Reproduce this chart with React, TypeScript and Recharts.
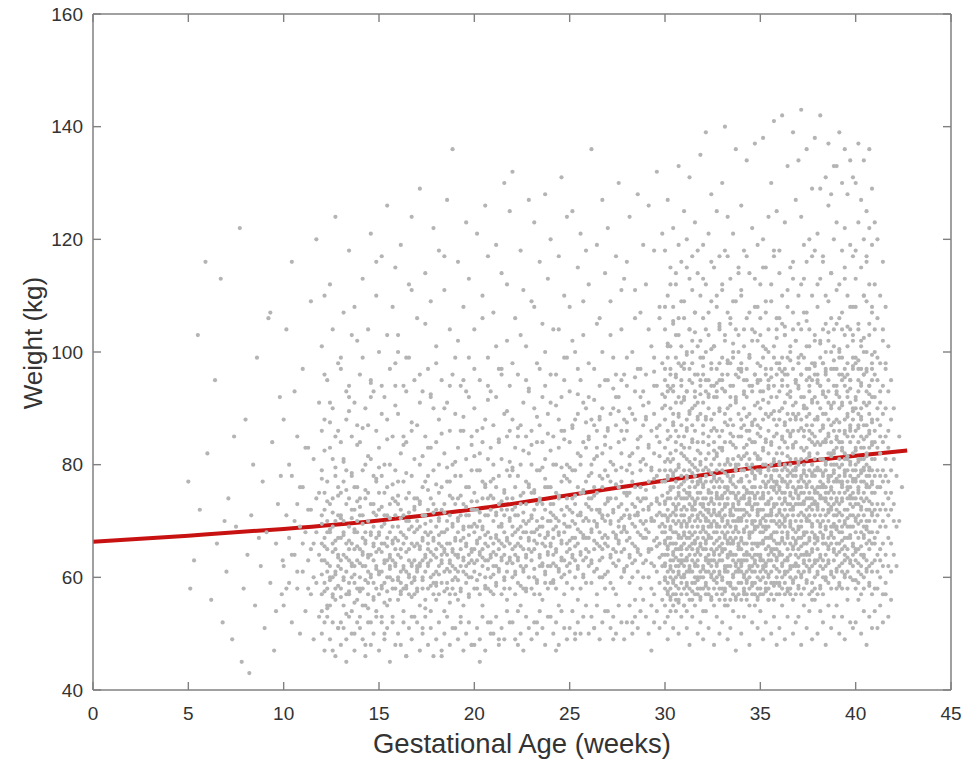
import React from 'react';
import { ComposedChart, Scatter, Line, XAxis, YAxis } from 'recharts';

// sparse early visits, [gestational age (weeks), weight (kg)]
const earlyPoints: [number, number][] = [
  [5.0, 77], [5.1, 58], [5.3, 63], [5.5, 103], [5.6, 72], [5.9, 116], [6.0, 82], [6.2, 56],
  [6.4, 95], [6.5, 66], [6.7, 113], [6.8, 52], [7.0, 61], [7.1, 74], [7.3, 49], [7.5, 69],
  [7.7, 122], [7.8, 45], [7.9, 58], [8.0, 88], [8.1, 64], [8.2, 43], [8.3, 71], [8.5, 55],
  [8.6, 99], [8.8, 62], [8.9, 77], [9.0, 51], [9.1, 68], [9.2, 106], [9.3, 59], [9.4, 84],
  [9.5, 47], [9.6, 66], [9.7, 73], [9.8, 92], [9.9, 57], [9.95, 63], [9.3, 107], [8.4, 80],
  [7.4, 85], [6.9, 70], [9.6, 54], [8.7, 67], [9.85, 78],
];

// weights per week, one list per day of the week
const weeks10to19: number[][][] = [
  [[62, 88, 55], [71, 104, 58], [67, 59, 80], [78, 52, 116, 64], [64, 93, 70], [58, 73, 85, 61], [69, 50, 76]],
  [[61, 76, 97, 66], [54, 68, 83], [83, 63, 58, 72], [72, 109, 57, 65], [66, 49, 81, 60], [59, 74, 120, 68], [64, 91, 53, 75]],
  [[57, 66, 79, 101, 63, 71, 54, 86], [63, 52, 72, 88, 67, 59, 110, 75], [70, 58, 95, 61, 65, 77, 55, 68], [55, 68, 83, 112, 62, 73, 60, 91], [74, 60, 47, 90, 66, 57, 81, 69], [65, 56, 78, 124, 61, 70, 85, 58], [62, 71, 86, 51, 67, 76, 98, 64]],
  [[58, 67, 75, 99, 52, 63, 71, 84], [64, 55, 81, 70, 107, 60, 68, 77], [61, 73, 49, 88, 66, 57, 79, 93], [69, 57, 63, 94, 118, 65, 74, 59], [54, 78, 66, 85, 60, 72, 62, 103], [72, 59, 91, 65, 50, 68, 76, 62], [63, 56, 76, 102, 68, 70, 58, 87]],
  [[60, 71, 53, 84, 96, 65, 58, 74], [67, 58, 64, 79, 113, 62, 71, 55], [55, 62, 74, 90, 48, 68, 80, 66], [70, 61, 57, 87, 104, 64, 75, 59], [64, 52, 68, 81, 121, 73, 60, 92], [59, 73, 66, 93, 56, 69, 78, 63], [62, 77, 54, 86, 110, 67, 71, 58]],
  [[57, 65, 72, 83, 100, 61, 68, 75], [61, 53, 69, 78, 117, 66, 58, 89], [66, 59, 75, 92, 50, 63, 71, 80], [55, 63, 71, 88, 126, 67, 60, 76], [68, 60, 56, 80, 97, 64, 73, 62], [63, 74, 52, 85, 108, 69, 58, 66], [58, 67, 62, 79, 115, 71, 65, 94]],
  [[64, 56, 73, 89, 103, 60, 69, 77], [59, 68, 61, 82, 119, 65, 72, 57], [66, 54, 77, 94, 71, 62, 58, 85], [61, 70, 58, 84, 46, 67, 74, 99], [57, 65, 75, 99, 112, 63, 70, 60], [69, 62, 53, 86, 124, 66, 78, 59], [63, 72, 60, 81, 95, 57, 68, 74]],
  [[58, 66, 74, 87, 106, 62, 70, 61], [62, 55, 69, 80, 129, 65, 73, 91], [67, 60, 76, 93, 51, 63, 71, 58], [56, 64, 71, 85, 114, 68, 61, 77], [65, 58, 78, 97, 62, 72, 66, 83], [60, 68, 54, 83, 109, 74, 63, 70], [64, 73, 59, 90, 122, 67, 57, 79]],
  [[61, 69, 56, 84, 101, 65, 72, 59], [57, 66, 75, 88, 118, 62, 70, 80], [63, 59, 72, 95, 47, 68, 76, 64], [68, 61, 54, 82, 111, 73, 65, 90], [59, 70, 64, 91, 127, 66, 58, 77], [66, 57, 77, 86, 104, 61, 71, 63], [62, 74, 58, 80, 136, 69, 65, 96]],
  [[60, 67, 73, 89, 99, 64, 57, 78], [64, 56, 70, 83, 116, 68, 61, 74], [58, 65, 78, 94, 52, 71, 62, 86], [67, 61, 55, 86, 108, 63, 73, 69], [62, 71, 59, 81, 123, 66, 76, 93], [57, 64, 76, 92, 113, 69, 60, 71], [65, 60, 69, 85, 48, 72, 63, 79]],
];

const weeks20to29: number[][][] = [
  [[61, 68, 75, 90, 104, 65, 72, 58], [58, 66, 72, 86, 121, 63, 79, 69], [64, 57, 79, 95, 45, 70, 67, 82], [69, 62, 55, 84, 110, 74, 65, 77], [60, 71, 66, 88, 126, 63, 76, 58], [63, 58, 74, 99, 117, 68, 81, 71], [67, 60, 77, 83, 52, 72, 64, 93]],
  [[62, 70, 57, 87, 107, 66, 74, 80], [59, 67, 76, 92, 119, 64, 71, 62], [65, 61, 73, 84, 49, 69, 78, 97], [57, 69, 63, 97, 114, 72, 66, 81], [68, 60, 75, 89, 130, 64, 71, 58], [61, 72, 56, 85, 102, 67, 79, 74], [66, 58, 78, 94, 125, 70, 63, 86]],
  [[60, 69, 74, 88, 132, 65, 72, 79], [64, 57, 71, 83, 106, 68, 76, 61], [59, 66, 78, 96, 48, 71, 63, 85], [67, 62, 55, 87, 118, 73, 69, 80], [61, 70, 65, 91, 111, 75, 58, 68], [58, 73, 68, 85, 101, 64, 77, 62], [65, 60, 76, 93, 127, 70, 67, 82]],
  [[63, 71, 58, 86, 109, 68, 75, 80], [60, 68, 75, 90, 123, 65, 72, 57], [66, 59, 73, 98, 52, 70, 79, 84], [57, 64, 79, 87, 116, 69, 62, 74], [69, 62, 56, 84, 105, 73, 66, 92], [61, 72, 67, 94, 128, 76, 59, 81], [64, 58, 76, 89, 113, 70, 68, 62]],
  [[62, 70, 76, 91, 120, 66, 73, 59], [59, 67, 73, 85, 104, 71, 64, 80], [65, 58, 80, 96, 47, 69, 75, 62], [68, 61, 55, 88, 117, 74, 70, 83], [60, 72, 66, 92, 131, 77, 63, 86], [63, 57, 78, 86, 110, 68, 71, 95], [66, 69, 59, 99, 124, 74, 62, 80]],
  [[61, 69, 77, 93, 108, 72, 65, 84], [64, 58, 74, 87, 125, 70, 67, 79], [60, 67, 79, 100, 50, 73, 63, 88], [66, 62, 56, 89, 115, 71, 76, 82], [58, 71, 68, 95, 121, 75, 64, 80], [63, 75, 60, 84, 103, 70, 67, 91], [67, 59, 73, 90, 118, 77, 65, 83]],
  [[62, 70, 78, 92, 112, 67, 74, 85], [59, 68, 74, 88, 136, 72, 63, 80], [65, 61, 81, 97, 51, 70, 76, 87], [69, 57, 66, 86, 119, 75, 72, 83], [63, 72, 60, 94, 106, 78, 68, 88], [60, 67, 76, 90, 127, 71, 65, 82], [66, 58, 73, 85, 114, 70, 79, 95]],
  [[61, 71, 78, 95, 122, 67, 74, 86], [64, 59, 74, 89, 109, 70, 77, 83], [58, 68, 80, 99, 49, 72, 65, 90], [67, 62, 57, 87, 117, 74, 79, 92], [63, 70, 66, 92, 130, 76, 69, 84], [60, 73, 77, 86, 104, 68, 82, 95], [65, 61, 69, 96, 113, 75, 71, 88]],
  [[62, 72, 79, 94, 116, 68, 75, 86], [59, 67, 75, 90, 124, 71, 80, 64], [66, 60, 82, 100, 52, 73, 77, 89], [69, 63, 56, 88, 111, 76, 71, 93], [61, 71, 68, 97, 128, 74, 83, 65], [64, 58, 76, 85, 107, 70, 79, 92], [67, 74, 60, 93, 119, 72, 81, 87]],
  [[63, 70, 80, 96, 112, 74, 67, 88], [60, 68, 77, 91, 126, 72, 83, 65], [65, 58, 73, 101, 47, 79, 70, 86], [70, 62, 57, 89, 118, 76, 82, 94], [61, 74, 67, 94, 132, 71, 78, 85], [66, 59, 79, 87, 106, 73, 84, 69], [64, 71, 62, 98, 121, 77, 68, 90]],
];

const weeks30to42: number[][][] = [
  [[71, 58, 83, 66, 95, 62, 77, 104, 69, 55, 73, 88, 64, 118, 79, 60, 92, 68], [64, 81, 57, 72, 99, 67, 75, 61, 86, 110, 70, 59, 94, 65, 78, 53, 127, 74], [76, 63, 90, 56, 69, 82, 101, 67, 60, 74, 115, 71, 85, 58, 97, 66, 79, 62], [59, 73, 66, 87, 61, 108, 78, 55, 70, 93, 64, 81, 68, 122, 57, 76, 89, 63], [68, 62, 79, 91, 57, 74, 65, 103, 84, 60, 71, 96, 54, 77, 112, 66, 86, 72], [61, 85, 70, 58, 76, 98, 63, 67, 80, 119, 73, 56, 89, 65, 106, 75, 62, 133], [74, 60, 67, 94, 82, 57, 71, 65, 101, 78, 63, 87, 69, 59, 116, 72, 91, 64]],
  [[66, 79, 58, 71, 92, 63, 85, 74, 60, 109, 68, 55, 77, 97, 62, 70, 83, 125], [72, 61, 88, 65, 75, 57, 100, 69, 81, 63, 120, 74, 59, 93, 67, 78, 54, 86], [58, 70, 64, 83, 76, 95, 61, 67, 113, 73, 56, 89, 79, 62, 104, 68, 75, 131], [77, 63, 69, 56, 90, 72, 61, 84, 66, 98, 74, 59, 80, 65, 117, 71, 87, 102], [64, 81, 73, 59, 68, 96, 62, 76, 70, 86, 55, 107, 78, 66, 93, 60, 123, 72], [69, 57, 75, 88, 62, 79, 67, 101, 71, 58, 84, 65, 114, 74, 91, 63, 77, 60], [73, 66, 60, 82, 95, 70, 56, 77, 64, 89, 68, 110, 61, 80, 75, 99, 58, 135]],
  [[62, 76, 69, 91, 58, 73, 84, 65, 106, 71, 60, 79, 96, 67, 54, 87, 119, 74], [70, 59, 81, 66, 74, 100, 63, 77, 88, 57, 68, 112, 72, 61, 93, 78, 65, 139], [57, 72, 64, 85, 79, 61, 95, 69, 75, 58, 103, 67, 82, 73, 90, 63, 121, 70], [75, 63, 88, 60, 71, 67, 98, 80, 56, 74, 65, 109, 86, 62, 77, 69, 94, 128], [66, 81, 58, 73, 92, 64, 70, 78, 61, 101, 68, 55, 84, 76, 115, 63, 89, 72], [59, 74, 68, 97, 62, 79, 71, 86, 65, 57, 108, 75, 92, 69, 60, 82, 125, 77], [71, 64, 83, 58, 76, 90, 67, 61, 73, 104, 80, 56, 69, 95, 74, 63, 117, 85]],
  [[68, 57, 79, 72, 95, 63, 86, 70, 60, 111, 74, 65, 83, 99, 58, 77, 66, 130], [61, 76, 69, 89, 58, 73, 102, 65, 80, 71, 56, 93, 67, 118, 75, 62, 84, 140], [73, 64, 87, 59, 70, 78, 96, 62, 74, 107, 68, 55, 81, 90, 66, 76, 61, 124], [56, 71, 66, 84, 77, 62, 92, 69, 59, 75, 105, 72, 88, 64, 80, 113, 67, 98], [75, 60, 68, 81, 64, 94, 73, 57, 87, 70, 63, 100, 78, 66, 121, 71, 58, 85], [64, 79, 72, 58, 91, 67, 76, 61, 83, 69, 109, 74, 56, 96, 62, 80, 136, 70], [70, 63, 85, 75, 59, 68, 97, 72, 65, 80, 57, 89, 77, 115, 61, 73, 103, 66]],
  [[59, 72, 81, 65, 98, 70, 62, 77, 88, 56, 74, 67, 110, 63, 85, 79, 61, 126], [74, 66, 58, 90, 71, 63, 83, 76, 101, 60, 68, 95, 57, 79, 64, 118, 72, 87], [63, 80, 69, 75, 57, 92, 66, 73, 86, 61, 106, 70, 78, 64, 97, 59, 82, 134], [77, 60, 73, 86, 64, 68, 99, 58, 75, 81, 62, 71, 114, 67, 89, 55, 94, 74], [68, 75, 62, 79, 93, 57, 72, 84, 66, 104, 70, 61, 87, 76, 59, 122, 65, 80], [61, 84, 70, 66, 78, 59, 96, 73, 63, 88, 74, 57, 108, 69, 82, 64, 137, 76], [72, 64, 87, 60, 75, 69, 81, 91, 58, 71, 102, 66, 79, 62, 95, 73, 56, 119]],
  [[66, 79, 61, 74, 95, 58, 70, 85, 64, 112, 76, 68, 90, 57, 81, 63, 72, 103], [75, 60, 83, 68, 72, 99, 63, 77, 57, 88, 69, 66, 120, 74, 62, 93, 80, 138], [58, 71, 65, 89, 76, 62, 80, 70, 107, 59, 84, 73, 67, 96, 61, 78, 115, 69], [73, 67, 91, 60, 77, 64, 86, 71, 58, 100, 75, 63, 82, 69, 124, 56, 94, 79], [63, 78, 70, 57, 84, 74, 61, 97, 67, 80, 72, 109, 65, 89, 59, 76, 130, 71], [70, 62, 76, 88, 65, 59, 81, 73, 94, 68, 56, 85, 77, 117, 64, 79, 101, 141], [77, 65, 59, 82, 71, 92, 63, 75, 68, 104, 79, 60, 87, 73, 66, 98, 57, 125]],
  [[64, 76, 69, 93, 59, 72, 83, 66, 106, 78, 61, 88, 74, 57, 97, 70, 118, 80], [71, 62, 85, 67, 79, 58, 75, 99, 64, 90, 73, 110, 60, 82, 68, 95, 77, 142], [59, 74, 66, 80, 87, 63, 70, 96, 77, 61, 84, 72, 57, 103, 69, 91, 123, 75], [76, 68, 61, 89, 73, 65, 94, 79, 58, 71, 108, 83, 63, 78, 67, 99, 86, 133], [66, 80, 72, 58, 77, 92, 64, 69, 85, 75, 62, 101, 81, 70, 115, 60, 88, 73], [62, 71, 83, 76, 67, 97, 59, 79, 74, 89, 65, 113, 72, 56, 86, 78, 104, 139], [73, 60, 78, 88, 64, 70, 84, 68, 95, 57, 81, 75, 66, 102, 79, 62, 127, 91]],
  [[69, 77, 62, 86, 73, 58, 94, 71, 80, 65, 105, 76, 61, 89, 74, 98, 67, 134], [75, 64, 81, 70, 96, 60, 78, 88, 67, 73, 57, 112, 83, 69, 92, 76, 124, 143], [61, 73, 68, 85, 77, 99, 63, 80, 71, 58, 90, 75, 66, 107, 79, 64, 86, 119], [78, 66, 90, 72, 59, 83, 70, 76, 101, 64, 87, 62, 74, 95, 68, 116, 81, 136], [64, 82, 74, 61, 79, 93, 67, 71, 86, 57, 77, 104, 70, 89, 63, 120, 75, 97], [72, 59, 76, 87, 65, 80, 69, 98, 74, 62, 91, 78, 56, 84, 110, 68, 129, 73], [67, 79, 63, 92, 71, 75, 85, 60, 78, 102, 66, 88, 73, 81, 58, 96, 118, 138]],
  [[70, 63, 84, 76, 95, 61, 73, 88, 67, 79, 57, 108, 75, 91, 65, 82, 121, 72], [62, 77, 69, 90, 74, 99, 64, 81, 71, 58, 86, 76, 113, 68, 94, 79, 129, 142], [76, 66, 81, 60, 93, 72, 78, 87, 63, 104, 70, 84, 67, 57, 98, 74, 117, 89], [64, 74, 89, 69, 79, 62, 96, 76, 84, 71, 110, 66, 80, 92, 60, 75, 131, 100], [73, 59, 78, 85, 67, 91, 75, 63, 82, 70, 102, 77, 88, 65, 126, 72, 95, 137], [68, 82, 72, 61, 87, 76, 97, 66, 80, 74, 90, 58, 106, 78, 69, 114, 84, 128], [75, 65, 91, 71, 80, 63, 77, 86, 69, 101, 73, 60, 94, 82, 67, 120, 79, 133]],
  [[71, 83, 64, 77, 93, 69, 74, 88, 61, 80, 105, 72, 97, 66, 85, 58, 123, 133], [66, 75, 90, 70, 81, 62, 96, 78, 73, 86, 59, 112, 68, 84, 77, 139, 92, 100], [77, 68, 84, 61, 74, 99, 71, 80, 65, 91, 76, 58, 107, 83, 69, 95, 118, 130], [63, 79, 72, 88, 67, 82, 75, 94, 60, 78, 103, 70, 86, 64, 113, 81, 122, 136], [74, 61, 81, 69, 92, 77, 65, 85, 72, 98, 58, 79, 89, 67, 110, 76, 128, 96], [69, 86, 76, 63, 80, 73, 91, 67, 84, 78, 104, 60, 95, 71, 87, 119, 74, 134], [75, 64, 88, 71, 79, 66, 97, 82, 74, 62, 90, 77, 108, 69, 85, 102, 117, 131]],
  [[68, 80, 73, 92, 63, 77, 86, 70, 99, 65, 83, 74, 58, 108, 79, 90, 118, 130], [76, 65, 84, 71, 95, 61, 78, 89, 67, 81, 73, 104, 59, 87, 75, 123, 97, 137], [62, 74, 81, 68, 90, 77, 64, 85, 72, 101, 79, 57, 94, 70, 115, 83, 88, 127], [79, 67, 91, 75, 60, 83, 71, 96, 64, 87, 77, 110, 69, 81, 58, 100, 120, 134], [70, 82, 63, 78, 93, 69, 74, 87, 61, 80, 97, 72, 85, 66, 109, 76, 117, 125], [65, 76, 89, 72, 83, 59, 79, 94, 70, 86, 62, 103, 78, 91, 68, 112, 122, 136], [73, 61, 84, 77, 68, 92, 75, 81, 66, 98, 71, 88, 57, 95, 79, 107, 119, 129]],
  [[70, 63, 81, 75, 92, 66, 86, 58, 78, 100, 72, 112, 84, 67, 123], [76, 68, 88, 61, 79, 95, 73, 83, 64, 106, 71, 90, 58, 120], [65, 78, 72, 85, 60, 91, 76, 69, 98, 82, 110, 63, 87], [73, 66, 84, 79, 94, 62, 77, 89, 70, 104, 57, 116], [69, 81, 64, 75, 90, 72, 85, 59, 97, 78, 108], [77, 62, 83, 71, 93, 67, 86, 74, 101], [66, 79, 72, 88, 61, 95, 75]],
  [[64, 73, 81, 90, 70], [62, 78, 69], [70, 85], [76], [], [], []],
];

// further visits recorded to the half kilogram
const weeks12to29Half: number[][][] = [
  [[60.5, 69.5, 77.5], [65.5, 57.5, 82.5], [62.5, 73.5, 54.5], [68.5, 59.5, 87.5], [56.5, 71.5, 64.5], [66.5, 79.5, 60.5], [58.5, 63.5, 74.5]],
  [[61.5, 70.5, 56.5], [67.5, 59.5, 80.5], [63.5, 75.5, 53.5], [57.5, 66.5, 89.5], [70.5, 62.5, 78.5], [60.5, 68.5, 55.5], [65.5, 73.5, 83.5]],
  [[62.5, 57.5, 72.5], [69.5, 64.5, 86.5], [59.5, 66.5, 75.5], [63.5, 54.5, 81.5], [67.5, 60.5, 94.5], [56.5, 71.5, 65.5], [64.5, 61.5, 77.5]],
  [[60.5, 67.5, 79.5], [64.5, 58.5, 72.5], [69.5, 62.5, 55.5], [57.5, 65.5, 84.5], [63.5, 70.5, 61.5], [66.5, 59.5, 76.5], [62.5, 73.5, 90.5]],
  [[59.5, 66.5, 74.5], [63.5, 70.5, 57.5], [67.5, 61.5, 83.5], [58.5, 64.5, 78.5], [71.5, 60.5, 68.5], [62.5, 56.5, 87.5], [65.5, 72.5, 59.5]],
  [[61.5, 68.5, 57.5], [65.5, 73.5, 62.5], [59.5, 66.5, 81.5], [69.5, 63.5, 54.5], [62.5, 75.5, 67.5], [58.5, 64.5, 92.5], [66.5, 60.5, 71.5]],
  [[63.5, 58.5, 76.5], [60.5, 67.5, 70.5], [65.5, 62.5, 85.5], [57.5, 71.5, 64.5], [68.5, 61.5, 79.5], [62.5, 74.5, 55.5], [64.5, 59.5, 69.5]],
  [[61.5, 66.5, 80.5], [59.5, 70.5, 63.5], [66.5, 57.5, 74.5], [63.5, 68.5, 88.5], [60.5, 65.5, 72.5], [67.5, 62.5, 56.5], [64.5, 73.5, 83.5]],
  [[62.5, 69.5, 81.5], [66.5, 59.5, 73.5], [60.5, 71.5, 64.5], [68.5, 63.5, 86.5], [58.5, 67.5, 76.5], [65.5, 61.5, 91.5], [63.5, 74.5, 57.5]],
  [[64.5, 60.5, 77.5], [67.5, 71.5, 58.5], [61.5, 66.5, 84.5], [69.5, 63.5, 73.5], [59.5, 75.5, 65.5], [66.5, 62.5, 89.5], [63.5, 70.5, 80.5]],
  [[62.5, 67.5, 79.5], [60.5, 72.5, 65.5], [68.5, 63.5, 86.5], [65.5, 58.5, 74.5], [71.5, 61.5, 82.5], [63.5, 69.5, 57.5], [66.5, 76.5, 93.5]],
  [[64.5, 70.5, 83.5], [61.5, 66.5, 75.5], [68.5, 59.5, 88.5], [63.5, 73.5, 67.5], [70.5, 62.5, 79.5], [60.5, 77.5, 65.5], [67.5, 64.5, 85.5]],
  [[65.5, 71.5, 82.5], [62.5, 68.5, 59.5], [70.5, 64.5, 90.5], [61.5, 74.5, 67.5], [66.5, 79.5, 63.5], [69.5, 60.5, 84.5], [64.5, 72.5, 77.5]],
  [[66.5, 62.5, 79.5], [63.5, 71.5, 86.5], [69.5, 65.5, 74.5], [61.5, 68.5, 92.5], [71.5, 64.5, 81.5], [67.5, 75.5, 60.5], [63.5, 70.5, 87.5]],
  [[64.5, 72.5, 84.5], [68.5, 62.5, 78.5], [66.5, 74.5, 91.5], [61.5, 69.5, 81.5], [71.5, 65.5, 88.5], [63.5, 77.5, 70.5], [67.5, 60.5, 83.5]],
  [[65.5, 73.5, 86.5], [69.5, 63.5, 80.5], [62.5, 71.5, 93.5], [67.5, 76.5, 64.5], [72.5, 66.5, 89.5], [64.5, 79.5, 70.5], [68.5, 61.5, 84.5]],
  [[66.5, 74.5, 87.5], [63.5, 70.5, 81.5], [69.5, 78.5, 62.5], [65.5, 72.5, 95.5], [71.5, 64.5, 84.5], [67.5, 80.5, 73.5], [62.5, 69.5, 90.5]],
  [[68.5, 75.5, 88.5], [64.5, 72.5, 83.5], [70.5, 62.5, 79.5], [66.5, 77.5, 96.5], [73.5, 65.5, 86.5], [63.5, 81.5, 71.5], [69.5, 74.5, 92.5]],
];

const weeks30to40Half: number[][][] = [
  [[66.5, 80.5, 59.5, 73.5, 90.5, 62.5], [70.5, 57.5, 84.5, 65.5, 77.5, 101.5], [61.5, 75.5, 68.5, 93.5, 56.5, 80.5], [78.5, 64.5, 87.5, 71.5, 59.5, 105.5], [63.5, 72.5, 58.5, 82.5, 69.5, 95.5], [74.5, 67.5, 60.5, 88.5, 79.5, 55.5], [69.5, 83.5, 62.5, 76.5, 97.5, 65.5]],
  [[72.5, 60.5, 81.5, 67.5, 91.5, 75.5], [58.5, 69.5, 77.5, 86.5, 63.5, 99.5], [74.5, 65.5, 89.5, 61.5, 80.5, 70.5], [67.5, 78.5, 57.5, 84.5, 72.5, 94.5], [62.5, 73.5, 66.5, 90.5, 79.5, 103.5], [76.5, 59.5, 82.5, 70.5, 64.5, 88.5], [65.5, 80.5, 71.5, 56.5, 92.5, 77.5]],
  [[68.5, 76.5, 61.5, 85.5, 72.5, 97.5], [63.5, 79.5, 70.5, 58.5, 88.5, 66.5], [75.5, 67.5, 83.5, 62.5, 92.5, 71.5], [60.5, 73.5, 78.5, 69.5, 56.5, 100.5], [71.5, 64.5, 86.5, 77.5, 59.5, 82.5], [66.5, 81.5, 62.5, 74.5, 94.5, 69.5], [77.5, 60.5, 71.5, 89.5, 65.5, 104.5]],
  [[64.5, 74.5, 82.5, 59.5, 70.5, 93.5], [72.5, 61.5, 78.5, 67.5, 87.5, 57.5], [69.5, 80.5, 63.5, 75.5, 98.5, 66.5], [58.5, 71.5, 85.5, 64.5, 77.5, 90.5], [76.5, 66.5, 60.5, 83.5, 72.5, 101.5], [62.5, 79.5, 68.5, 91.5, 56.5, 74.5], [73.5, 65.5, 81.5, 70.5, 95.5, 61.5]],
  [[70.5, 62.5, 77.5, 86.5, 66.5, 96.5], [60.5, 74.5, 68.5, 81.5, 92.5, 57.5], [75.5, 64.5, 83.5, 71.5, 59.5, 88.5], [67.5, 79.5, 61.5, 73.5, 99.5, 84.5], [63.5, 72.5, 87.5, 58.5, 78.5, 69.5], [77.5, 68.5, 62.5, 90.5, 74.5, 103.5], [65.5, 81.5, 71.5, 56.5, 85.5, 94.5]],
  [[69.5, 78.5, 63.5, 86.5, 59.5, 97.5], [74.5, 61.5, 82.5, 70.5, 91.5, 66.5], [62.5, 76.5, 68.5, 57.5, 84.5, 100.5], [79.5, 65.5, 73.5, 88.5, 60.5, 93.5], [67.5, 83.5, 71.5, 64.5, 95.5, 77.5], [58.5, 72.5, 80.5, 66.5, 89.5, 75.5], [76.5, 63.5, 69.5, 85.5, 102.5, 61.5]],
  [[71.5, 64.5, 80.5, 58.5, 89.5, 75.5], [66.5, 77.5, 62.5, 84.5, 96.5, 69.5], [73.5, 60.5, 87.5, 70.5, 79.5, 104.5], [63.5, 81.5, 67.5, 92.5, 57.5, 76.5], [78.5, 69.5, 61.5, 85.5, 74.5, 98.5], [65.5, 72.5, 83.5, 59.5, 90.5, 68.5], [75.5, 62.5, 79.5, 88.5, 66.5, 94.5]],
  [[68.5, 80.5, 63.5, 74.5, 93.5, 58.5], [77.5, 65.5, 86.5, 71.5, 60.5, 99.5], [62.5, 73.5, 82.5, 67.5, 90.5, 78.5], [70.5, 59.5, 76.5, 88.5, 64.5, 105.5], [81.5, 66.5, 72.5, 61.5, 95.5, 84.5], [64.5, 78.5, 69.5, 85.5, 57.5, 91.5], [73.5, 62.5, 83.5, 75.5, 97.5, 67.5]],
  [[66.5, 79.5, 72.5, 60.5, 88.5, 94.5], [74.5, 63.5, 83.5, 69.5, 101.5, 58.5], [61.5, 76.5, 67.5, 86.5, 78.5, 92.5], [80.5, 68.5, 59.5, 73.5, 96.5, 84.5], [65.5, 77.5, 85.5, 62.5, 71.5, 103.5], [72.5, 60.5, 81.5, 90.5, 67.5, 75.5], [69.5, 82.5, 64.5, 78.5, 98.5, 87.5]],
  [[73.5, 61.5, 84.5, 68.5, 92.5, 77.5], [64.5, 79.5, 71.5, 87.5, 58.5, 100.5], [76.5, 66.5, 82.5, 62.5, 90.5, 73.5], [69.5, 85.5, 60.5, 78.5, 95.5, 65.5], [81.5, 70.5, 63.5, 88.5, 75.5, 104.5], [62.5, 74.5, 80.5, 67.5, 93.5, 86.5], [77.5, 65.5, 72.5, 59.5, 89.5, 97.5]],
  [[70.5, 82.5, 64.5, 77.5, 91.5, 59.5], [75.5, 62.5, 86.5, 69.5, 98.5, 80.5], [65.5, 78.5, 72.5, 60.5, 88.5, 94.5], [79.5, 67.5, 84.5, 73.5, 102.5, 63.5], [68.5, 76.5, 61.5, 90.5, 81.5, 96.5], [73.5, 85.5, 66.5, 58.5, 79.5, 92.5], [62.5, 71.5, 83.5, 76.5, 99.5, 87.5]],
];

// lighter and heavier visits at the edges of the cloud
const weeks12to29Tails: number[][][] = [
  [[50], [47, 96], [53], [49], [52, 104], [46], [51]],
  [[48, 97], [51], [45], [53, 92], [50], [47, 108], [52]],
  [[51], [49, 99], [46], [52], [48, 95], [50], [53, 116]],
  [[47], [52, 94], [49], [51, 103], [45], [53], [48, 98]],
  [[50, 100], [48], [52], [46, 93], [51], [49, 111], [53]],
  [[52], [47, 96], [50], [53, 105], [48], [51, 92], [46]],
  [[49, 98], [52], [46], [50, 117], [53], [48, 94], [51]],
  [[51], [49, 102], [53], [47, 95], [50], [52, 99], [48]],
  [[48, 97], [51], [49], [53, 106], [47], [52, 94], [50]],
  [[50], [53, 101], [48], [51, 96], [49], [54, 112], [52]],
  [[52, 98], [49], [54], [50, 103], [47], [53, 95], [51]],
  [[49], [52, 108], [50], [54, 97], [51], [48, 100], [53]],
  [[53, 96], [50], [52], [48, 104], [54], [51, 99], [49]],
  [[51], [54, 102], [49], [52, 97], [50], [53, 109], [55]],
  [[50, 98], [53], [51], [55, 105], [49], [52, 100], [54]],
  [[54], [51, 103], [53], [50, 96], [55], [52, 111], [49]],
  [[52, 99], [55], [50], [53, 106], [51], [54, 97], [56]],
  [[53], [50, 104], [55], [52, 99], [54], [51, 108], [56]],
];

const weeks30to41Tails: number[][][] = [
  [[52, 97, 108], [49, 101, 93], [54, 112, 96], [51, 94, 105], [56, 99, 114], [50, 103, 92], [53, 95, 109]],
  [[55, 98, 106], [51, 93, 115], [48, 104, 97], [53, 100, 111], [57, 92, 107], [50, 96, 118], [52, 102, 94]],
  [[49, 99, 113], [54, 95, 104], [51, 107, 92], [56, 97, 116], [48, 101, 94], [53, 93, 110], [50, 105, 98]],
  [[52, 96, 112], [55, 103, 93], [49, 98, 117], [51, 94, 106], [54, 109, 99], [47, 92, 104], [53, 100, 114]],
  [[50, 97, 111], [53, 104, 93], [56, 95, 117], [48, 99, 107], [52, 102, 94], [55, 96, 113], [51, 108, 98]],
  [[54, 93, 106], [49, 101, 115], [52, 97, 109], [56, 104, 95], [50, 92, 112], [53, 99, 118], [48, 106, 96]],
  [[51, 98, 114], [55, 94, 105], [49, 103, 97], [53, 96, 111], [57, 100, 93], [50, 107, 116], [52, 95, 102]],
  [[53, 99, 110], [48, 104, 96], [55, 92, 113], [51, 97, 107], [54, 101, 94], [49, 95, 117], [56, 103, 98]],
  [[50, 96, 112], [54, 102, 94], [52, 98, 116], [48, 105, 97], [55, 93, 109], [51, 100, 114], [53, 97, 104]],
  [[55, 94, 111], [50, 99, 106], [53, 104, 96], [49, 97, 115], [56, 101, 93], [52, 95, 108], [51, 103, 99]],
  [[52, 98, 113], [56, 93, 105], [50, 102, 97], [54, 96, 110], [48, 100, 116], [53, 105, 94], [51, 97, 108]],
  [[54, 96, 104], [51, 99], [55, 93], [52, 102], [57, 98], [53], [56]],
];

// fitted trend
const fitAge = [0, 5, 10, 15, 20, 25, 30, 35, 40, 42.7];
const fitWeight = [66.3, 67.4, 68.6, 70.1, 72.1, 74.6, 77.2, 79.6, 81.6, 82.5];

const xTicks = [0, 5, 10, 15, 20, 25, 30, 35, 40, 45];
const yTicks = [40, 60, 80, 100, 120, 140, 160];

const fromWeeks = (first: number, weeks: number[][][]) =>
  weeks.flatMap((days, w) =>
    days.flatMap((kgs, d) => kgs.map((kg) => ({ ga: first + w + d / 7, kg })))
  );

const scatterData = [
  ...earlyPoints.map(([ga, kg]) => ({ ga, kg })),
  ...fromWeeks(10, weeks10to19),
  ...fromWeeks(20, weeks20to29),
  ...fromWeeks(30, weeks30to42),
  ...fromWeeks(12, weeks12to29Half),
  ...fromWeeks(30, weeks30to40Half),
  ...fromWeeks(12, weeks12to29Tails),
  ...fromWeeks(30, weeks30to41Tails),
];
const fitData = fitAge.map((ga, i) => ({ ga, kg: fitWeight[i] }));

const font = '"Liberation Sans", Arial, Helvetica, sans-serif';
const axisColor = '#808080';
const textColor = '#333';
const tickLen = 8;

const Dot = (p: any) => <circle cx={p.cx} cy={p.cy} r={2.1} fill="#b4b4b4" />;

// inward tick marks drawn together with the labels
const BottomTick = (p: any) => (
  <g>
    <line x1={p.x} x2={p.x} y1={p.y - 17} y2={p.y - 17 - tickLen} stroke={axisColor} strokeWidth={1.4} />
    <text x={p.x} y={p.y} dy="0.71em" textAnchor="middle" fontSize={19} fontFamily={font} fill={textColor}>
      {p.payload.value}
    </text>
  </g>
);
const LeftTick = (p: any) => (
  <g>
    <line x1={p.x + 10} x2={p.x + 10 + tickLen} y1={p.y} y2={p.y} stroke={axisColor} strokeWidth={1.4} />
    <text x={p.x} y={p.y} dy="0.355em" textAnchor="end" fontSize={19} fontFamily={font} fill={textColor}>
      {p.payload.value}
    </text>
  </g>
);
const TopTick = (p: any) => (
  <line x1={p.x} x2={p.x} y1={p.y} y2={p.y + tickLen} stroke={axisColor} strokeWidth={1.4} />
);
const RightTick = (p: any) => (
  <line x1={p.x} x2={p.x - tickLen} y1={p.y} y2={p.y} stroke={axisColor} strokeWidth={1.4} />
);

export default function App() {
  return (
    <div style={{ position: 'absolute', left: 0, top: 0, background: '#fff' }}>
      <ComposedChart width={967} height={763} margin={{ top: 13, right: 15, bottom: 0, left: 0 }}>
        <XAxis
          dataKey="ga"
          type="number"
          domain={[0, 45]}
          ticks={xTicks}
          height={73}
          tickSize={0}
          tickMargin={17}
          tick={BottomTick}
          tickLine={false}
          axisLine={{ stroke: axisColor, strokeWidth: 1.5 }}
          label={(props: any) => (
            <text
              x={props.viewBox.x + props.viewBox.width / 2}
              y={props.viewBox.y + 63}
              textAnchor="middle"
              fontSize={27.5}
              fontFamily={font}
              fill={textColor}
            >
              Gestational Age (weeks)
            </text>
          )}
        />
        <XAxis
          xAxisId="top"
          orientation="top"
          dataKey="ga"
          type="number"
          domain={[0, 45]}
          ticks={xTicks}
          height={1}
          tickSize={0}
          tickMargin={0}
          tick={TopTick}
          tickLine={false}
          axisLine={{ stroke: axisColor, strokeWidth: 1.5 }}
        />
        <YAxis
          dataKey="kg"
          type="number"
          domain={[40, 160]}
          ticks={yTicks}
          width={93}
          tickSize={0}
          tickMargin={10}
          tick={LeftTick}
          tickLine={false}
          axisLine={{ stroke: axisColor, strokeWidth: 1.5 }}
          label={(props: any) => {
            const cy = props.viewBox.y + props.viewBox.height / 2 - 9;
            return (
              <text
                x={42}
                y={cy}
                transform={`rotate(-90, 42, ${cy})`}
                textAnchor="middle"
                fontSize={26}
                fontFamily={font}
                fill={textColor}
              >
                Weight (kg)
              </text>
            );
          }}
        />
        <YAxis
          yAxisId="right"
          orientation="right"
          dataKey="kg"
          type="number"
          domain={[40, 160]}
          ticks={yTicks}
          width={1}
          tickSize={0}
          tickMargin={0}
          tick={RightTick}
          tickLine={false}
          axisLine={{ stroke: axisColor, strokeWidth: 1.5 }}
        />
        <Scatter data={scatterData} dataKey="kg" shape={Dot} isAnimationActive={false} />
        <Line
          xAxisId="top"
          yAxisId="right"
          data={fitData}
          dataKey="kg"
          type="monotone"
          stroke="#c81212"
          strokeWidth={4}
          dot={false}
          activeDot={false}
          isAnimationActive={false}
        />
      </ComposedChart>
    </div>
  );
}
